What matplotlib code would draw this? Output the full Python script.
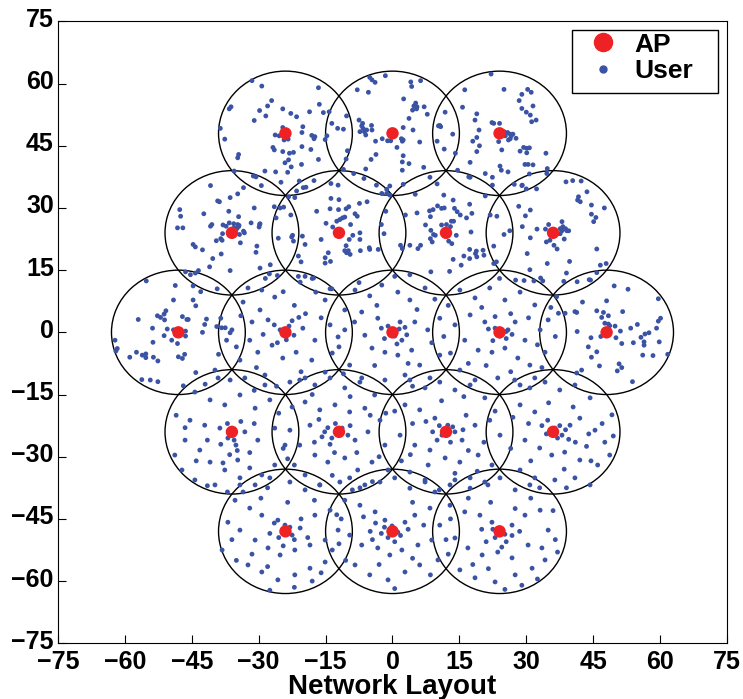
import matplotlib
matplotlib.use("Agg")
import matplotlib.pyplot as plt
import matplotlib.transforms as mtransforms
from matplotlib.patches import Circle, Rectangle
from matplotlib.lines import Line2D

plt.rcParams['font.family'] = ['Liberation Sans', 'DejaVu Sans']
plt.rcParams['font.weight'] = 'bold'

# Access point positions (hexagonal 19-cell layout)
ap_x = [-24, 0, 24, -36, -12, 12, 36, -48, -24, 0, 24, 48, -36, -12, 12, 36, -24, 0, 24]
ap_y = [48, 48, 48, 24, 24, 24, 24, 0, 0, 0, 0, 0, -24, -24, -24, -24, -48, -48, -48]
cell_radius = 15

# User positions, grouped by serving cell
users_m24_48 = [(-31.5,60.7),(-29.3,59.4),(-16.6,59.0),(-27.1,55.9),(-36.2,54.4),(-36.6,53.9),(-16.4,55.0),(-24.6,53.9),(-29.8,53.5),(-28.0,54.6),(-22.8,52.8),(-18.6,53.2),(-15.5,53.0),(-14.2,53.2),(-28.4,52.2),(-21.5,52.0),(-31.0,51.1),(-13.6,50.4),(-12.3,49.2),(-38.6,49.2),(-37.6,46.6),(-20.1,49.6),(-24.6,49.4),(-20.3,48.2),(-26.3,47.6),(-25.4,47.4),(-24.3,46.4),(-23.4,46.6),(-18.1,47.5),(-17.4,47.2),(-17.6,46.7),(-15.1,46.5),(-14.7,47.4),(-26.8,44.6),(-26.5,44.0),(-24.6,43.6),(-23.1,43.2),(-22.2,43.4),(-20.3,44.8),(-18.3,44.1),(-34.5,42.9),(-34.7,42.1),(-16.6,41.7),(-23.3,41.6),(-24.1,40.9),(-22.7,39.9),(-20.4,40.5),(-28.6,38.9),(-26.2,38.7),(-23.5,38.6),(-31.2,37.7),(-30.6,37.5),(-20.9,36.5),(-17.6,36.6),(-25.0,36.2),(-29.4,35.4),(-33.4,34.9)]
users_0_48 = [(-5.1,61.5),(-4.6,60.9),(-3.9,60.3),(-1.6,61.9),(4.1,60.4),(6.3,60.7),(4.3,59.3),(-7.9,58.5),(-5.4,57.9),(2.5,56.3),(5.2,55.3),(4.8,54.6),(4.5,53.6),(5.4,53.9),(5.5,54.4),(7.1,54.4),(7.8,52.6),(-10.3,52.2),(-7.5,51.2),(-6.7,50.4),(-6.9,49.8),(-6.6,49.2),(-5.8,48.8),(-7.3,48.4),(-6.3,48.4),(-4.7,49.9),(-4.6,48.8),(-6.0,47.6),(3.7,51.6),(4.6,48.8),(2.4,49.4),(-11.0,49.0),(-2.3,46.7),(-3.8,46.1),(-1.1,46.2),(-0.4,46.2),(2.0,46.7),(2.4,46.4),(2.2,46.1),(6.1,45.9),(1.0,44.6),(-3.7,42.9),(2.4,42.6),(-10.1,43.8),(-10.4,41.8),(-4.8,41.7),(2.2,41.1),(3.7,40.7),(7.0,39.8),(-6.0,39.4),(2.2,39.1),(-11.0,39.3),(-8.7,38.3),(-6.4,37.1),(8.4,37.4),(-3.6,35.5),(-0.6,35.3),(2.4,35.7),(11.8,53.1),(10.6,49.9),(10.3,49.8),(10.8,49.6),(10.0,46.1),(11.6,44.2)]
users_24_48 = [(22.1,62.3),(16.2,58.5),(25.0,58.6),(29.0,57.4),(30.3,58.6),(31.1,57.9),(28.4,55.9),(15.7,54.3),(31.5,54.6),(29.0,54.0),(30.0,53.1),(30.9,52.4),(18.9,52.7),(18.5,51.2),(32.2,51.2),(31.2,50.8),(22.3,50.6),(22.7,50.4),(24.0,50.4),(19.4,48.8),(25.8,48.2),(26.4,47.8),(27.0,47.8),(26.6,47.4),(26.0,46.4),(26.4,46.7),(27.7,46.8),(25.3,47.4),(25.0,48.4),(23.8,46.0),(13.5,47.8),(18.9,47.0),(18.0,46.1),(19.5,45.0),(18.9,43.6),(24.5,44.0),(28.6,43.7),(29.4,44.6),(30.1,44.4),(30.7,44.5),(30.1,43.3),(34.4,43.2),(14.1,43.2),(17.4,41.0),(29.7,40.5),(30.4,40.5),(31.5,40.4),(24.1,40.1),(24.4,39.1),(25.9,38.7),(34.7,39.5),(34.6,38.3),(14.6,39.1),(20.8,38.3),(22.4,37.4),(17.1,37.5),(17.4,37.4),(30.7,38.2),(27.3,35.7),(29.0,35.4),(22.4,35.5)]
users_m36_24 = [(-35.5,38.9),(-40.8,35.4),(-34.7,33.4),(-39.2,31.7),(-38.8,31.5),(-36.4,32.5),(-47.7,29.6),(-47.5,28.0),(-42.3,28.6),(-36.7,29.2),(-34.5,27.9),(-31.0,30.0),(-48.2,25.2),(-47.0,25.2),(-40.8,25.6),(-40.5,26.0),(-38.0,25.9),(-37.3,25.6),(-36.6,26.4),(-35.6,26.2),(-34.7,26.0),(-34.5,25.5),(-34.9,25.0),(-35.5,25.2),(-34.4,25.8),(-31.7,26.4),(-29.8,26.0),(-29.9,25.4),(-29.7,26.2),(-38.1,23.8),(-38.5,22.6),(-38.2,22.2),(-39.5,22.1),(-34.3,23.6),(-33.4,24.4),(-33.2,24.0),(-34.1,21.6),(-44.7,21.2),(-44.2,20.6),(-42.6,19.9),(-38.4,18.9),(-40.3,17.8),(-30.4,20.8),(-30.6,19.3),(-41.0,15.8),(-36.4,14.9),(-29.7,15.5),(-46.4,14.6),(-45.3,13.9),(-44.2,14.3),(-43.5,14.9),(-27.4,16.3),(-27.6,14.1),(-25.8,13.7),(-26.5,30.3),(-25.2,30.0),(-24.4,30.2),(-26.1,27.6)]
users_m12_24 = [(-20.0,34.9),(-19.4,35.0),(-21.5,34.1),(-23.3,32.7),(-21.9,32.5),(-13.8,35.9),(-12.2,35.5),(-2.4,33.5),(-1.3,33.5),(-0.6,33.1),(-1.3,34.5),(-13.8,32.3),(-12.0,32.0),(-9.8,30.3),(-10.4,29.8),(-14.0,29.8),(-12.1,29.6),(-7.4,31.1),(-5.7,31.5),(-8.4,28.6),(-7.9,28.0),(-17.0,29.2),(-22.8,28.3),(-11.8,27.2),(-11.2,27.6),(-10.7,27.8),(-12.5,26.8),(-13.4,25.4),(-14.9,26.3),(-9.4,26.0),(-1.5,29.2),(-2.5,26.0),(-1.9,23.8),(-8.9,23.4),(-9.7,22.4),(-10.4,20.9),(-10.7,19.7),(-9.9,19.7),(-10.3,19.2),(-9.5,18.8),(-7.3,24.0),(-7.3,22.4),(-7.2,19.7),(-5.2,20.4),(-5.1,20.0),(-3.2,20.0),(-16.0,22.4),(-14.4,19.2),(-13.9,17.1),(-15.1,18.0),(-15.1,16.7),(-22.4,23.4),(-22.6,23.0),(-22.2,22.0),(-20.2,23.2),(-19.6,21.2),(-21.1,18.4),(-20.5,17.0),(-25.6,22.7),(-21.1,13.5),(-19.6,13.5),(-17.7,13.1),(-13.6,10.5)]
users_12_24 = [(11.5,33.1),(13.6,31.9),(13.9,29.9),(14.5,29.1),(15.2,28.3),(17.3,30.9),(17.8,28.7),(16.6,27.6),(8.3,29.3),(9.1,29.6),(8.5,27.9),(10.1,30.5),(11.0,29.9),(11.6,30.0),(5.5,28.8),(2.9,28.3),(7.4,25.9),(8.6,24.6),(9.2,23.6),(9.6,23.4),(8.5,22.6),(8.9,21.8),(11.0,25.9),(12.1,26.0),(13.0,25.5),(13.2,26.8),(13.7,26.8),(14.3,23.4),(12.6,22.0),(13.3,21.4),(17.6,24.2),(3.9,21.0),(1.8,21.0),(2.2,20.2),(6.3,21.0),(5.7,20.2),(13.6,17.6),(15.4,16.2),(16.0,18.4),(17.3,20.0),(17.3,17.8),(18.8,19.6),(18.6,19.0),(18.9,18.2),(20.3,19.8),(20.5,18.6),(8.6,14.6),(12.8,14.7),(22.7,20.8),(23.3,17.0),(21.9,28.3),(23.4,28.0),(20.8,32.9),(10.0,35.8),(5.1,33.3),(3.9,13.9),(22.7,16.6)]
users_36_24 = [(38.9,36.3),(40.4,36.6),(42.3,36.5),(43.6,33.9),(41.7,32.7),(41.5,31.9),(42.1,31.5),(44.6,30.7),(44.6,28.5),(45.6,27.7),(45.1,26.7),(47.5,30.0),(28.3,30.4),(29.8,28.1),(30.9,29.5),(29.1,25.5),(29.1,35.5),(30.0,34.6),(32.3,34.6),(32.4,24.9),(34.3,24.9),(35.0,26.0),(38.0,26.7),(38.2,25.5),(37.6,25.0),(38.8,25.0),(39.1,24.5),(39.5,24.5),(38.0,24.5),(37.0,23.8),(37.6,23.8),(38.5,22.5),(34.5,21.8),(35.3,22.2),(36.2,21.0),(36.9,20.1),(30.9,22.8),(25.0,23.6),(26.3,24.5),(30.2,19.0),(45.8,20.1),(39.7,17.1),(34.7,16.6),(30.8,15.1),(46.6,16.2),(47.9,16.6),(39.0,14.3),(33.2,13.1),(33.7,12.4),(31.7,12.4),(27.6,12.6),(45.8,14.4),(41.4,12.2),(44.4,12.6),(38.4,12.3)]
users_m48_0 = [(-55.2,12.4),(-48.7,11.3),(-49.1,7.8),(-44.7,7.8),(-44.1,6.4),(-50.8,5.2),(-51.2,4.4),(-52.7,4.0),(-52.0,3.6),(-51.1,3.0),(-57.0,3.1),(-47.1,3.8),(-46.1,3.1),(-45.8,3.1),(-41.7,3.2),(-42.1,1.9),(-53.8,1.0),(-50.5,0.8),(-49.1,0.6),(-47.5,0.3),(-46.4,0.3),(-51.2,-0.8),(-49.5,-1.9),(-48.6,-0.6),(-46.4,-0.9),(-48.2,-2.7),(-42.6,0.0),(-53.7,-2.4),(-62.2,-1.9),(-61.7,-3.9),(-62.0,-4.5),(-57.4,-4.8),(-56.1,-5.5),(-55.3,-5.2),(-55.3,-6.1),(-58.9,-6.0),(-53.6,-6.0),(-52.6,-6.9),(-48.0,-5.9),(-47.1,-6.3),(-46.6,-5.3),(-39.0,-5.3),(-56.2,-11.4),(-54.3,-11.5),(-52.6,-11.9),(-44.1,-9.7),(-39.4,1.4),(-38.3,1.1),(-37.5,1.1),(-36.4,-0.1),(-37.2,-1.9),(-38.5,3.4),(-39.3,10.5),(-43.0,9.8),(-44.7,11.2),(-46.9,-12.9),(-39.1,-11.0)]
users_m24_0 = [(-32.4,10.7),(-29.3,10.2),(-26.4,8.5),(-33.5,7.3),(-20.7,12.1),(-17.2,9.7),(-15.1,7.8),(-29.7,5.4),(-27.9,3.0),(-25.2,0.6),(-23.2,1.5),(-22.1,-0.7),(-20.1,1.0),(-17.4,-1.9),(-14.0,1.8),(-12.2,-1.1),(-32.0,-1.9),(-30.2,-4.8),(-27.0,-3.1),(-24.6,-6.2),(-21.6,-4.8),(-18.1,-6.7),(-15.1,-9.6),(-34.2,-6.7),(-36.0,0.6),(-28.6,-10.3),(-23.0,-12.0),(-19.6,-11.0),
               (-22.5,2.8),(-21.0,3.6),(-19.5,4.5),(-23.8,-1.8),(-25.8,-2.5),(-26.5,1.8),(-29.0,-0.5),(-31.5,2.5),(-34.0,4.0),(-18.0,13.0),(-13.5,-5.0),(-16.0,3.5),(-20.5,-9.5),(-26.0,-13.0),(-30.5,-8.5),(-35.0,-3.5),(-22.0,6.5),(-24.5,9.8),(-28.5,13.0),(-14.0,10.5)]
users_0_0 = [(-8.4,10.2),(-5.1,8.8),(-2.4,11.4),(1.2,9.7),(3.9,7.8),(7.3,10.7),(-6.9,4.9),(-3.3,3.4),(-1.0,1.5),(0.5,-0.9),(2.1,-1.9),(1.7,2.5),(5.0,2.5),(7.9,0.6),(10.6,3.4),(-6.2,-0.7),(-4.6,-3.8),(-1.7,-4.8),(1.2,-5.5),(4.3,-4.3),(6.1,-7.9),(10.6,-5.5),(-9.6,-7.9),(-6.9,-11.0),(-1.7,-11.5),(2.8,-10.3),(8.4,-11.0),(-10.7,0.6),(-10.7,5.4),
            (1.5,0.8),(2.8,1.2),(3.2,-0.6),(1.0,-2.8),(-1.8,-1.5),(-2.5,1.0),(-3.5,6.5),(5.5,5.5),(8.8,-2.5),(11.5,-1.0),(-8.5,2.5),(-12.0,-3.5),(-4.0,-8.0),(4.5,-13.0),(0.5,13.5),(-7.5,12.0),(9.5,8.0),(-11.0,-10.0),(3.5,-7.5)]
users_24_0 = [(15.1,10.2),(18.5,8.3),(21.8,10.7),(25.2,7.8),(28.6,9.7),(31.9,6.6),(17.4,4.2),(20.7,2.5),(23.0,1.0),(24.1,-0.9),(25.9,0.6),(27.5,2.5),(29.7,-1.9),(33.1,0.6),(34.9,3.0),(16.2,-1.9),(19.2,-4.3),(22.3,-4.8),(25.2,-3.8),(28.1,-6.2),(30.8,-7.9),(34.2,-4.8),(15.1,-9.1),(18.5,-11.5),(23.6,-11.0),(28.6,-12.7),(31.9,-11.0),(14.0,1.8),
             (25.5,0.2),(26.8,-0.5),(25.5,-1.5),(22.5,-2.0),(21.5,0.8),(23.0,3.8),(26.5,4.5),(30.5,3.5),(32.5,-3.0),(36.5,-1.0),(13.0,-5.0),(17.0,-7.5),(21.0,-8.0),(26.5,-9.5),(33.5,-8.5),(20.0,6.0),(24.0,13.0),(29.5,12.5),(35.5,6.0),(12.5,6.5)]
users_48_0 = [(49.7,11.2),(52.8,10.4),(42.6,7.3),(48.0,7.6),(59.6,8.1),(45.8,5.2),(47.3,4.8),(46.9,3.6),(48.4,4.0),(51.6,5.0),(40.9,5.0),(41.3,4.8),(38.7,4.6),(37.2,4.6),(47.6,2.2),(48.4,2.0),(48.7,1.6),(49.9,1.5),(51.1,0.3),(53.4,1.0),(54.9,1.9),(59.6,2.7),(60.1,3.4),(59.2,1.0),(41.4,0.2),(46.7,-1.0),(44.5,-1.3),(50.1,-1.3),(51.4,-2.7),(54.0,-2.5),(55.7,-1.2),(56.6,-0.4),(57.5,-0.1),(56.4,-2.3),(56.4,-3.1),(43.9,-3.5),(45.8,-4.7),(44.6,-6.0),(59.8,-2.3),(56.1,-5.5),(58.4,-5.6),(61.7,-5.3),(46.4,-8.1),(50.8,-7.6),(51.4,-8.5),(50.4,-9.3),(53.8,-11.9),(42.4,-9.1),(41.3,-9.8),(44.1,12.7),(36.8,8.6)]
users_m36_m24 = [(-39.8,-9.1),(-36.4,-11.5),(-33.1,-11.0),(-28.6,-12.7),(-44.3,-14.4),(-40.9,-16.3),(-37.6,-17.5),(-34.2,-15.1),(-30.8,-18.3),(-27.5,-16.3),(-45.4,-21.2),(-42.1,-22.4),(-38.7,-23.1),(-36.9,-25.5),(-35.1,-27.2),(-33.1,-24.0),(-30.2,-26.0),(-26.4,-23.1),(-24.1,-27.2),(-43.2,-28.4),(-40.9,-31.3),(-37.6,-33.2),(-34.7,-30.8),(-32.0,-32.7),(-29.3,-34.4),(-26.4,-32.0),(-47.2,-33.2),(-44.3,-35.6),(-39.8,-36.8),(-34.2,-36.8),(-46.5,-26.0),(-48.8,-29.6),
                 (-35.5,-26.0),(-34.8,-28.5),(-36.5,-29.5),(-38.5,-27.0),(-37.0,-22.0),(-34.0,-21.5),(-32.0,-29.0),(-38.0,-31.5),(-41.5,-26.0),(-44.0,-31.0),(-46.5,-23.0),(-48.5,-20.0),(-42.0,-12.5),(-31.0,-14.0),(-25.5,-19.5),(-23.5,-30.5),(-28.0,-37.5),(-41.5,-37.0),(-37.0,-38.5),(-31.0,-22.0)]
users_m12_m24 = [(-20.8,-11.5),(-17.4,-12.7),(-14.0,-11.0),(-10.7,-13.4),(-7.3,-12.0),(-4.0,-15.1),(-19.6,-16.8),(-16.3,-18.7),(-12.9,-17.5),(-9.6,-19.2),(-6.2,-18.3),(-2.8,-21.2),(-18.5,-22.4),(-15.2,-24.0),(-13.6,-25.5),(-11.3,-23.1),(-8.4,-26.0),(-5.5,-24.0),(-1.7,-27.2),(-20.8,-27.2),(-17.4,-29.6),(-14.5,-31.3),(-10.7,-30.3),(-7.8,-33.2),(-4.6,-31.3),(-1.0,-33.2),(-19.6,-34.4),(-16.3,-36.8),(-11.8,-36.1),(-7.3,-37.5),(-23.0,-23.6),
                 (-14.5,-23.0),(-15.8,-25.2),(-14.0,-27.0),(-12.8,-22.0),(-10.0,-24.8),(-9.5,-22.5),(-16.5,-21.0),(-17.5,-26.5),(-13.0,-29.0),(-8.0,-29.0),(-5.0,-20.0),(-22.5,-18.0),(-24.5,-28.0),(-3.0,-30.0),(-1.5,-19.5),(-9.5,-15.5),(-22.0,-32.0),(-13.5,-34.5),(-4.5,-36.0),(-18.0,-15.0)]
users_12_m24 = [(3.9,-11.5),(7.3,-13.4),(10.6,-12.0),(14.0,-13.9),(17.4,-12.7),(20.7,-15.8),(2.8,-17.5),(6.1,-18.7),(9.5,-20.7),(12.4,-22.4),(11.1,-24.8),(14.0,-24.0),(15.6,-26.0),(18.5,-22.4),(21.8,-21.2),(24.1,-24.8),(1.7,-24.8),(5.0,-27.2),(8.4,-28.4),(11.8,-30.3),(15.1,-31.3),(19.2,-29.6),(22.3,-32.0),(3.9,-33.7),(7.3,-35.6),(12.9,-36.8),(17.4,-35.1),(21.4,-36.8),
                (10.5,-22.5),(13.5,-22.8),(13.0,-26.5),(10.0,-26.0),(9.0,-24.0),(15.8,-23.5),(16.5,-20.0),(7.5,-21.5),(4.5,-22.0),(4.0,-29.5),(8.0,-32.0),(17.0,-28.5),(20.5,-26.5),(23.0,-19.0),(11.0,-16.5),(16.0,-15.5),(0.5,-19.0),(2.0,-31.0),(14.0,-34.0),(19.0,-33.5),(10.5,-38.0)]
users_36_m24 = [(27.4,-11.5),(30.8,-13.4),(34.2,-12.0),(37.5,-13.9),(40.9,-12.7),(44.3,-15.8),(28.6,-17.5),(31.9,-19.2),(34.8,-21.2),(36.4,-23.1),(38.0,-24.8),(39.8,-22.4),(42.0,-20.7),(45.4,-23.6),(47.6,-26.5),(29.7,-26.0),(33.0,-27.9),(35.7,-29.6),(38.6,-28.9),(42.0,-30.8),(46.0,-32.0),(28.6,-33.2),(31.9,-35.1),(36.4,-35.6),(40.9,-35.1),(44.3,-36.8),(49.2,-19.9),(48.7,-29.6),
                (37.5,-22.5),(38.8,-23.5),(37.0,-25.5),(39.5,-25.8),(34.5,-24.5),(33.5,-22.5),(41.0,-26.5),(43.5,-27.5),(44.0,-24.5),(40.5,-18.0),(35.0,-17.0),(30.5,-22.0),(26.5,-28.0),(27.0,-20.5),(31.0,-31.0),(38.5,-33.0),(44.5,-31.0),(47.0,-22.0),(33.0,-37.5),(39.0,-37.5),(49.5,-25.0)]
users_m24_m48 = [(-34.2,-35.1),(-30.8,-36.8),(-27.5,-35.1),(-23.0,-36.1),(-19.6,-38.0),(-16.3,-36.8),(-35.3,-40.5),(-32.0,-42.4),(-29.3,-44.1),(-25.7,-45.3),(-24.1,-46.5),(-22.5,-48.9),(-20.7,-47.2),(-17.4,-44.1),(-14.0,-42.9),(-34.2,-47.7),(-30.8,-50.1),(-27.9,-52.0),(-25.2,-53.7),(-21.9,-52.5),(-18.5,-51.3),(-15.1,-50.1),(-12.2,-47.7),(-32.4,-56.1),(-29.3,-57.8),(-25.7,-59.7),(-21.9,-58.5),(-18.5,-56.9),(-15.1,-55.4),(-27.5,-62.2),(-36.9,-45.8),(-38.2,-52.5),
                 (-23.0,-47.0),(-25.5,-49.5),(-22.0,-50.0),(-26.5,-46.0),(-24.5,-51.5),(-27.5,-48.5),(-20.5,-45.0),(-19.0,-49.5),(-29.5,-40.0),(-33.5,-38.5),(-23.5,-41.0),(-17.5,-40.5),(-13.5,-52.5),(-12.5,-44.0),(-36.0,-50.0),(-35.0,-55.0),(-31.5,-53.5),(-28.0,-56.5),(-22.0,-61.5),(-18.0,-60.0),(-16.0,-58.0)]
users_0_m48 = [(-9.6,-35.1),(-6.2,-36.8),(-2.8,-36.1),(0.5,-35.1),(3.9,-37.6),(7.3,-36.1),(-10.7,-40.5),(-7.3,-41.7),(-3.9,-43.3),(-1.7,-45.3),(-0.1,-46.7),(1.2,-48.2),(2.8,-45.8),(5.0,-44.1),(8.4,-42.4),(10.6,-46.5),(-9.6,-48.9),(-6.9,-51.3),(-3.3,-52.0),(-0.6,-53.7),(2.1,-52.5),(5.7,-51.3),(8.8,-50.1),(-8.4,-56.1),(-5.1,-58.5),(-1.0,-59.7),(2.8,-57.8),(6.1,-56.1),(10.2,-54.9),(0.5,-61.8),
               (-1.8,-47.0),(-2.5,-48.5),(-1.0,-49.5),(1.8,-49.0),(0.5,-50.5),(3.5,-47.5),(-3.8,-46.0),(-5.0,-48.0),(-4.5,-50.0),(-6.5,-44.5),(4.5,-41.0),(7.0,-46.5),(9.5,-38.5),(-9.0,-38.0),(-11.5,-45.0),(-12.0,-51.0),(-10.5,-55.0),(-3.0,-56.0),(4.5,-54.5),(8.5,-58.5),(12.0,-50.0)]
users_24_m48 = [(14.0,-35.6),(17.4,-37.6),(20.7,-36.1),(24.1,-35.1),(27.5,-38.0),(30.8,-36.8),(12.9,-41.7),(16.2,-43.3),(19.6,-44.1),(22.3,-45.8),(24.1,-47.2),(25.2,-48.7),(26.8,-46.5),(29.7,-44.1),(33.1,-42.9),(34.9,-47.7),(14.0,-49.6),(16.9,-52.0),(20.1,-53.7),(23.6,-53.0),(26.8,-54.4),(30.4,-51.3),(33.5,-52.0),(15.1,-57.3),(18.5,-59.2),(23.0,-60.2),(27.5,-58.5),(31.3,-56.9),(34.2,-54.9),(25.2,-62.0),
                (23.0,-49.5),(25.5,-50.5),(22.5,-47.5),(26.8,-49.0),(24.5,-51.8),(21.0,-50.5),(20.0,-47.5),(28.5,-48.0),(27.5,-42.5),(22.0,-41.0),(17.0,-40.0),(31.0,-40.0),(36.0,-43.0),(36.5,-50.0),(13.0,-45.0),(12.5,-53.5),(18.0,-56.0),(21.5,-57.0),(29.0,-61.0),(32.5,-59.5),(37.0,-53.0)]

all_users = (users_m24_48 + users_0_48 + users_24_48
             + users_m36_24 + users_m12_24 + users_12_24 + users_36_24
             + users_m48_0 + users_m24_0 + users_0_0 + users_24_0 + users_48_0
             + users_m36_m24 + users_m12_m24 + users_12_m24 + users_36_m24
             + users_m24_m48 + users_0_m48 + users_24_m48)
user_x = [p[0] for p in all_users]
user_y = [p[1] for p in all_users]

tick_vals = list(range(-75, 76, 15))
ap_color = '#ee2224'
user_color = '#3a53a4'

fig = plt.figure(figsize=(7.43, 6.99), dpi=100)
ax = fig.add_axes([0.078, 0.0797, 0.9005, 0.8897])

for cx, cy in zip(ap_x, ap_y):
    ax.add_patch(Circle((cx, cy), cell_radius, fill=False, edgecolor='black', linewidth=1.0, zorder=1))

ax.scatter(user_x, user_y, s=12, color=user_color, edgecolors='none', zorder=2)
ax.scatter(ap_x, ap_y, s=80, color=ap_color, edgecolors='none', zorder=3)

ax.set_xlim(-75, 75)
ax.set_ylim(-75, 75)
ax.set_xticks(tick_vals)
ax.set_yticks(tick_vals)
ax.tick_params(axis='both', direction='in', length=6, width=0.8, labelsize=18, pad=3)
ax.tick_params(axis='x', pad=5)

# y tick labels sit a few pixels above their ticks
lift = mtransforms.ScaledTranslation(0, 4 / 100, fig.dpi_scale_trans)
for lab in ax.get_yticklabels():
    lab.set_transform(lab.get_transform() + lift)
for lab in ax.get_xticklabels() + ax.get_yticklabels():
    lab.set_fontweight('bold')
ax.set_xlabel('Network Layout', fontsize=20, fontweight='bold', labelpad=0)

# Legend: entries without their own frame, boxed by a plain rectangle
handles = [
    Line2D([], [], linestyle='none', marker='o', markersize=13, color=ap_color, label='AP'),
    Line2D([], [], linestyle='none', marker='o', markersize=5, color=user_color, label='User'),
]
leg = ax.legend(handles=handles, loc='upper left', bbox_to_anchor=(0.795, 0.982),
                fontsize=19, frameon=False, borderaxespad=0, borderpad=0,
                handlelength=1.0, handletextpad=0.7, labelspacing=0.1)
for t in leg.get_texts():
    t.set_fontweight('bold')
ax.add_patch(Rectangle((0.768, 0.885), 0.2185, 0.101, transform=ax.transAxes,
                       fill=True, facecolor='white', edgecolor='black', linewidth=1.0, zorder=4))
leg.set_zorder(5)

fig.savefig('out.png', dpi=100)
